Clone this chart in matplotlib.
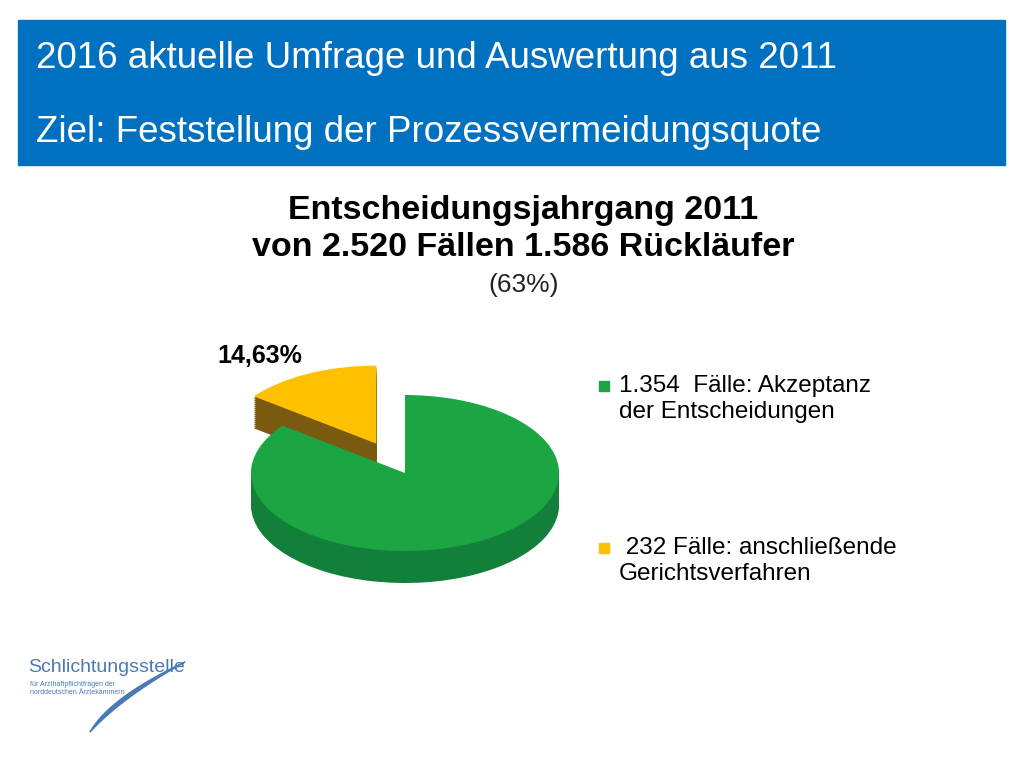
import matplotlib
matplotlib.use("Agg")
import matplotlib.pyplot as plt
import matplotlib.patches as mp
import numpy as np

labels = ["1.354  Fälle: Akzeptanz\nder Entscheidungen", " 232 Fälle: anschließende\nGerichtsverfahren"]
values = [85.37, 14.63]
pct_labels = ["85,37%", "14,63%"]
top_colors = ["#1BA543", "#FFC000"]
side_colors = ["#12803A", "#7A5A10"]

W, H = 1024, 768
fig = plt.figure(figsize=(W/100, H/100), dpi=100)
fig.patch.set_facecolor("white")
bg = fig.add_axes([0, 0, 1, 1]); bg.set_xlim(0, W); bg.set_ylim(H, 0); bg.axis("off")
FONT = "Liberation Sans"

bg.add_patch(mp.Rectangle((18, 20), 987, 145, color="#0070C0"))
bg.text(36, 58, "2016 aktuelle Umfrage und Auswertung aus 2011", color="white", fontsize=26.5, family=FONT, va="center")
bg.text(36, 133, "Ziel: Feststellung der Prozessvermeidungsquote", color="white", fontsize=26.5, family=FONT, va="center")
bg.text(523, 210, "Entscheidungsjahrgang 2011", fontsize=24.5, weight="bold", family=FONT, ha="center", va="center")
bg.text(523, 248, "von 2.520 Fällen 1.586 Rückläufer", fontsize=24.5, weight="bold", family=FONT, ha="center", va="center")
bg.text(524, 285, "(63%)", fontsize=19, family=FONT, ha="center", va="center", color="#222222")

# pie
cx, cy, rx, ry, depth = 405, 473, 154, 78, 32
ax = fig.add_axes([(cx-2*rx)/W, (H-(cy+2*ry))/H, 4*rx/W, 4*ry/H])
ax.axis("off")
vals = values[::-1]
explode = [0.42, 0]
nsteps = 16
for i in range(nsteps, 0, -1):
    k = depth/ry * i/nsteps
    ax.pie(vals, colors=side_colors[::-1], startangle=90, explode=explode,
           radius=1, center=(0, -k), wedgeprops=dict(linewidth=0))
ax.pie(vals, colors=top_colors[::-1], startangle=90, explode=explode,
       radius=1, center=(0, 0), wedgeprops=dict(linewidth=0))
ax.set_aspect("auto"); ax.set_xlim(-2, 2); ax.set_ylim(-2, 2)

bg.text(217, 356, pct_labels[1], fontsize=18, weight="bold", family=FONT, va="center")
bg.text(467, 498, pct_labels[0], fontsize=18, weight="bold", family=FONT, ha="center", va="center")

for yy, c, t in [(386, top_colors[0], labels[0]), (548, top_colors[1], labels[1])]:
    bg.add_patch(mp.Rectangle((599, yy-5), 10, 10, color=c))
    bg.text(619, yy+13, t, fontsize=17.5, family=FONT, va="center", linespacing=1.25)

# logo
bg.text(28, 668, "Schlichtungsstelle", fontsize=14, color="#4A7AB5", family=FONT, va="center")
bg.text(30, 688, "für Arzthaftpflichtfragen der\nnorddeutschen Ärztekammern", fontsize=5, color="#4A7AB5", family=FONT, va="center")
t = np.linspace(0, 1, 60)
xs1 = 185 - 150*t + 55*t**2; ys1 = 662 + 70*t
xs2 = 185 - 125*t + 30*t**2; ys2 = 662 + 70*t
poly = np.column_stack([np.r_[xs1, xs2[::-1]], np.r_[ys1, ys2[::-1]]])
bg.add_patch(mp.Polygon(poly, color="#4A7AB5"))

fig.savefig("out.png", dpi=100)
